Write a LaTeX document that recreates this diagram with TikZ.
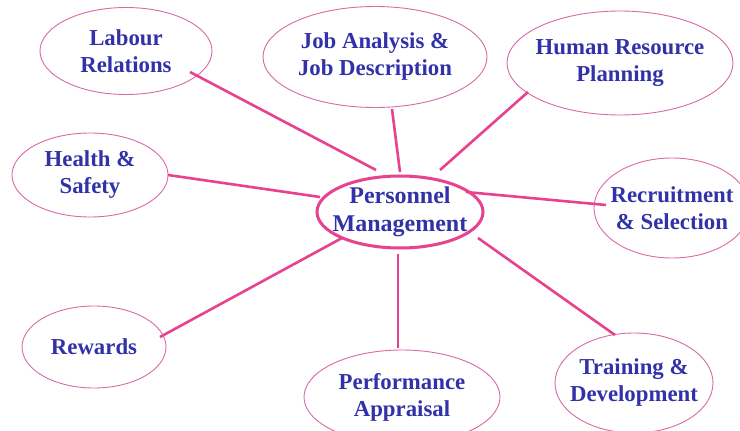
\documentclass[tikz,border=0pt]{standalone}
\usepackage{fontspec}
\setmainfont{Liberation Serif}
\usetikzlibrary{shapes.geometric}
\definecolor{txtblue}{HTML}{3232A8}
\definecolor{linkpink}{HTML}{E8428F}
\definecolor{rimpink}{HTML}{D86AA8}
\tikzset{
  topic/.style={ellipse, draw=rimpink, line width=0.9pt, inner sep=-20pt,
    text=txtblue, align=center, font=\bfseries\fontsize{22.8}{27}\selectfont},
  hub/.style={topic, draw=linkpink, line width=3pt, font=\bfseries\fontsize{24}{28}\selectfont},
  link/.style={draw=linkpink, line width=2.6pt}
}
\begin{document}
\begin{tikzpicture}[x=1pt,y=-1pt]
\useasboundingbox[fill=white] (0,0) rectangle (740,431);
\node[hub, minimum width=166pt, minimum height=72pt] (pm) at (400,212) {Personnel\\Management};
\node[topic, minimum width=172pt, minimum height=87pt] (lab) at (126,51) {Labour\\Relations};
\node[topic, minimum width=224pt, minimum height=101pt] (job) at (375,57) {Job Analysis \&\\Job Description};
\node[topic, minimum width=226pt, minimum height=104pt] (hrp) at (620,63) {Human Resource\\Planning};
\node[topic, minimum width=156pt, minimum height=84pt] (hs) at (90,175) {Health \&\\Safety};
\node[topic, minimum width=156pt, minimum height=100pt] (rs) at (672,208) {Recruitment\\\& Selection};
\node[topic, minimum width=144pt, minimum height=82pt] (rew) at (94,347) {Rewards};
\node[topic, minimum width=196pt, minimum height=94pt] (pa) at (402,397) {Performance\\Appraisal};
\node[topic, minimum width=158pt, minimum height=100pt] (td) at (634,383) {Training \&\\Development};
\draw[link] ([shift={(64,21)}]lab.center) -- ([shift={(-24,-42)}]pm.center);
\draw[link] ([shift={(17,52)}]job.center) -- ([shift={(0,-40)}]pm.center);
\draw[link] ([shift={(-92,29)}]hrp.center) -- ([shift={(40,-42)}]pm.center);
\draw[link] ([shift={(78,0)}]hs.center) -- ([shift={(-80,-15)}]pm.center);
\draw[link] ([shift={(-66,-3)}]rs.center) -- ([shift={(66,-20)}]pm.center);
\draw[link] ([shift={(66,-10)}]rew.center) -- ([shift={(-58,26)}]pm.center);
\draw[link] ([shift={(-4,-49)}]pa.center) -- ([shift={(-2,42)}]pm.center);
\draw[link] ([shift={(-19,-48)}]td.center) -- ([shift={(78,26)}]pm.center);
\end{tikzpicture}
\end{document}
